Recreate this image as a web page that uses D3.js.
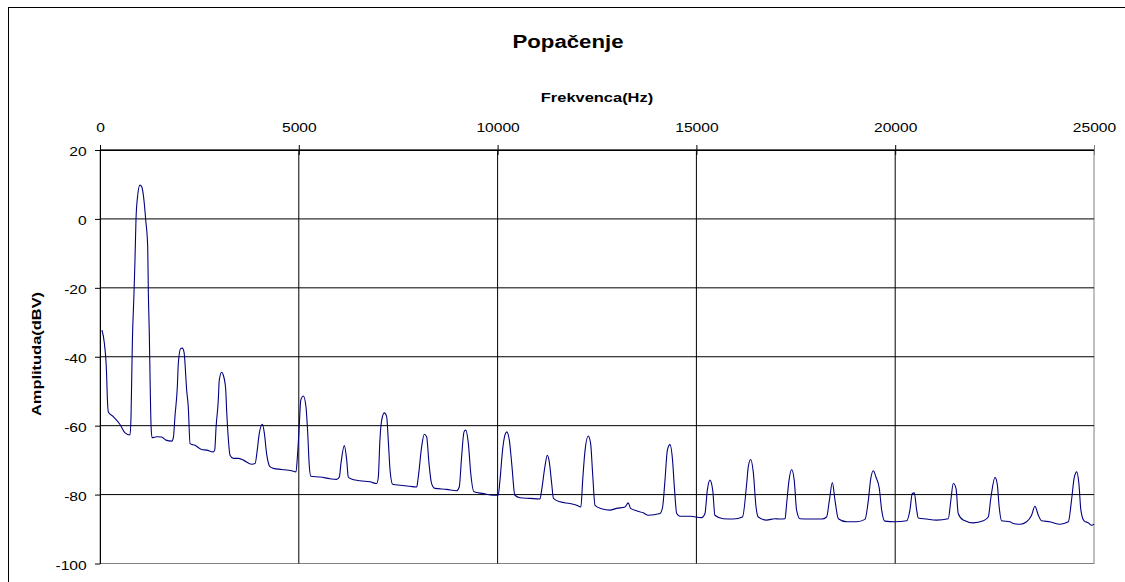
<!DOCTYPE html>
<html>
<head>
<meta charset="utf-8">
<script src="https://cdn.jsdelivr.net/npm/d3@7"></script>
<style>
  html, body { margin: 0; padding: 0; background: #fff; overflow: hidden; }
  svg { display: block; }
  text { font-family: "Liberation Sans", Arial, sans-serif; fill: #000; }
</style>
</head>
<body>
<div id="chart"></div>
<script>
// -- Data (frequency in Hz, amplitude in dBV) --
var freqHz = [
  50, 110, 165, 185, 210, 335, 500, 630, 755, 780, 815, 855, 880, 905, 940, 1005, 1050, 1105, 1150, 1200,
  1215, 1240, 1260, 1285, 1310, 1425, 1550, 1660, 1805, 1845, 1885, 1945, 1970, 2030, 2070, 2115, 2180, 2220,
  2265, 2390, 2555, 2685, 2850, 2885, 2920, 2975, 3000, 3060, 3100, 3160, 3185, 3230, 3270, 3355, 3480, 3605,
  3815, 3900, 3955, 4005, 4085, 4135, 4190, 4275, 4360, 4570, 4820, 4930, 4965, 5010, 5050, 5115, 5180, 5225,
  5265, 5305, 5535, 5785, 5950, 6020, 6060, 6145, 6205, 6245, 6305, 6540, 6790, 6960, 7000, 7040, 7085, 7150,
  7210, 7250, 7295, 7360, 7545, 7795, 7965, 8005, 8090, 8155, 8215, 8275, 8340, 8425, 8720, 8970, 9035, 9095,
  9155, 9195, 9265, 9325, 9405, 9640, 9890, 10015, 10060, 10125, 10185, 10230, 10295, 10355, 10435, 10565,
  10815, 11065, 11110, 11190, 11250, 11300, 11360, 11405, 11570, 11820, 11990, 12095, 12140, 12200, 12280,
  12340, 12390, 12450, 12615, 12825, 12995, 13205, 13285, 13345, 13495, 13665, 13790, 14085, 14150, 14210,
  14270, 14335, 14400, 14445, 14505, 14585, 14840, 15130, 15215, 15275, 15340, 15410, 15465, 15675, 15930,
  16160, 16265, 16305, 16365, 16430, 16500, 16555, 16765, 16975, 17100, 17230, 17270, 17330, 17395, 17460,
  17520, 17605, 17855, 18150, 18275, 18345, 18420, 18485, 18570, 18780, 19030, 19240, 19325, 19380, 19450,
  19515, 19600, 19660, 19740, 19995, 20290, 20370, 20430, 20480, 20540, 20580, 20790, 21040, 21335, 21400,
  21460, 21530, 21585, 21710, 21965, 22215, 22340, 22410, 22510, 22565, 22615, 22675, 22885, 22970, 23140,
  23305, 23430, 23515, 23600, 23680, 23890, 24145, 24355, 24435, 24505, 24565, 24620, 24670, 24750, 24855,
  24940, 25000
];
var amplitudeDbv = [
  -32.3, -36.1, -44.8, -52.1, -56.0, -57.4, -59.6, -62.1, -62.7, -57.4, -35.2, -21.6, -11.9, -0.3, 6.0, 9.8, 9.3, 5.5, -0.3, -8.1,
  -20.7, -33.2, -46.8, -60.3, -63.5, -63.2, -63.3, -64.2, -64.5, -63.5, -57.4, -48.7, -41.9, -37.6, -37.5, -38.8, -49.7, -54.5,
  -65.2, -65.7, -66.9, -67.1, -67.6, -67.1, -60.3, -52.6, -46.8, -44.5, -45.3, -49.2, -55.5, -64.2, -68.6, -69.5, -69.5, -70.0,
  -71.2, -71.0, -67.1, -62.3, -59.6, -62.3, -68.1, -71.9, -72.4, -72.7, -73.1, -73.4, -69.0, -60.3, -52.6, -51.4, -54.5, -62.3,
  -71.9, -74.7, -74.9, -75.4, -75.6, -74.9, -71.0, -65.8, -70.0, -74.9, -75.4, -76.0, -76.3, -76.8, -74.9, -64.2, -58.4, -56.3,
  -57.4, -64.2, -72.9, -77.0, -77.3, -77.6, -77.8, -74.9, -66.1, -62.5, -63.2, -71.0, -76.8, -78.2, -78.5, -78.9, -77.8, -69.0,
  -61.8, -61.3, -65.2, -73.9, -79.2, -79.7, -80.2, -80.2, -75.8, -67.1, -62.7, -61.8, -64.2, -71.0, -80.2, -80.9,
  -81.1, -81.3, -78.5, -71.9, -68.6, -70.5, -76.8, -81.1, -82.1, -82.6, -83.1, -83.6, -75.8, -67.1, -63.0,
  -65.2, -73.9, -83.1, -84.1, -84.5, -84.0, -83.6, -82.4, -84.0, -84.7, -85.3, -86.0, -85.5, -83.6, -75.8,
  -67.1, -65.5, -70.0, -77.7, -85.5, -86.3, -86.3, -86.7, -85.5, -78.7, -75.8, -78.7, -86.0, -87.0, -87.1,
  -86.5, -76.8, -71.9, -69.8, -73.4, -83.6, -86.5, -87.4, -87.0, -87.1, -87.0, -82.6, -75.8, -72.7, -75.8,
  -84.5, -87.0, -87.1, -87.1, -86.5, -81.6, -76.5, -81.6, -87.0, -87.9, -87.9, -87.2, -81.6, -75.8, -73.1,
  -74.9, -78.2, -84.5, -87.7, -87.9, -87.6, -84.5, -79.7, -79.5, -84.5, -86.8, -87.1, -87.4, -87.0, -81.6,
  -76.8, -78.2, -85.5, -87.4, -88.2, -87.6, -86.5, -80.6, -75.0, -76.8, -83.6, -87.6, -87.9, -88.4, -88.6,
  -87.9, -86.0, -83.4, -86.0, -87.6, -87.9, -88.6, -87.9, -81.6, -74.9, -73.4, -76.8, -84.5, -87.6, -88.2,
  -88.9, -88.6
];
var xTicks = [0, 5000, 10000, 15000, 20000, 25000];
var yTicks = [-100, -80, -60, -40, -20, 0, 20];

var TITLE = "Popačenje";
var X_LABEL = "Frekvenca(Hz)";
var Y_LABEL = "Amplituda(dBV)";

// -- Layout --------------------------------------------------------
var W = 1125, H = 582;
var plot = { left: 100, right: 1094, top: 150, bottom: 563.5 };
var STRETCH = 1.2; // reference text is horizontally stretched

// plain hyphen minus, like the reference
function plainNum(d) { return String(d); }

var svg = d3.select("#chart").append("svg")
  .attr("width", W).attr("height", H);

// outer chart frame (right/bottom edges fall outside the picture)
svg.append("rect")
  .attr("x", 8.5).attr("y", 7.5)
  .attr("width", 1200).attr("height", 700)
  .attr("fill", "#fff")
  .attr("stroke", "#000").attr("stroke-width", 1);

var x = d3.scaleLinear().domain([0, 25000]).range([plot.left, plot.right]);
var y = d3.scaleLinear().domain([-100, 20]).range([plot.bottom, plot.top]);

// plot area border (grey right/bottom)
svg.append("rect")
  .attr("x", plot.left).attr("y", plot.top)
  .attr("width", plot.right - plot.left).attr("height", plot.bottom - plot.top)
  .attr("fill", "none").attr("stroke", "#808080").attr("stroke-width", 1);

// gridlines
svg.append("g").selectAll("line")
  .data(yTicks.filter(function (d) { return d > -100; }))
  .join("line")
    .attr("x1", plot.left).attr("x2", plot.right)
    .attr("y1", function (d) { return y(d); }).attr("y2", function (d) { return y(d); })
    .attr("stroke", "#000").attr("stroke-width", 1);

svg.append("g").selectAll("line")
  .data(xTicks.filter(function (d) { return d > 0 && d < 25000; }))
  .join("line")
    .attr("x1", function (d) { return x(d); }).attr("x2", function (d) { return x(d); })
    .attr("y1", plot.top).attr("y2", plot.bottom)
    .attr("stroke", "#000").attr("stroke-width", 1);

// x axis on top
var xAxis = svg.append("g")
  .attr("transform", "translate(0," + plot.top + ")")
  .call(d3.axisTop(x).tickValues(xTicks).tickSizeInner(5).tickSizeOuter(0).tickPadding(13).tickFormat(plainNum));
xAxis.selectAll(".tick line").attr("y2", -5).attr("y1", 5).attr("stroke", "#000");
xAxis.select(".domain").attr("stroke", "#000");
xAxis.selectAll("text")
  .attr("font-family", "'Liberation Sans', Arial, sans-serif")
  .attr("font-size", 13)
  .attr("fill", "#000")
  .attr("transform", "scale(" + STRETCH + ",1)");
xAxis.selectAll(".tick").filter(function (d) { return d === 25000; }).select("line").attr("stroke", "#808080");

// y axis on left
var yAxis = svg.append("g")
  .attr("transform", "translate(" + plot.left + ",0)")
  .call(d3.axisLeft(y).tickValues(yTicks).tickSizeInner(5).tickSizeOuter(0).tickPadding(8).tickFormat(plainNum));
yAxis.select(".domain").attr("stroke", "#000");
yAxis.selectAll(".tick line").attr("stroke", "#000");
yAxis.selectAll("text")
  .attr("font-family", "'Liberation Sans', Arial, sans-serif")
  .attr("font-size", 13)
  .attr("fill", "#000")
  .attr("x", -13.3 / STRETCH)
  .attr("dy", "0.45em")
  .attr("transform", "scale(" + STRETCH + ",1)");

// spectrum line
var line = d3.line()
  .x(function (d, i) { return x(freqHz[i]); })
  .y(function (d) { return y(d); })
  .curve(d3.curveMonotoneX);

svg.append("path")
  .datum(amplitudeDbv)
  .attr("d", line)
  .attr("fill", "none")
  .attr("stroke", "#000080")
  .attr("stroke-width", 1.1)
  .attr("stroke-linejoin", "round");

// titles
svg.append("text")
  .attr("transform", "translate(568,48) scale(" + STRETCH + ",1)")
  .attr("text-anchor", "middle")
  .attr("font-size", 18.5).attr("font-weight", "bold")
  .text(TITLE);

svg.append("text")
  .attr("transform", "translate(597,101.5) scale(" + STRETCH + ",1)")
  .attr("text-anchor", "middle")
  .attr("font-size", 13.7).attr("font-weight", "bold")
  .text(X_LABEL);

svg.append("text")
  .attr("transform", "translate(41,354) rotate(-90) scale(" + STRETCH + ",1)")
  .attr("text-anchor", "middle")
  .attr("font-size", 13.7).attr("font-weight", "bold")
  .text(Y_LABEL);
</script>
</body>
</html>
